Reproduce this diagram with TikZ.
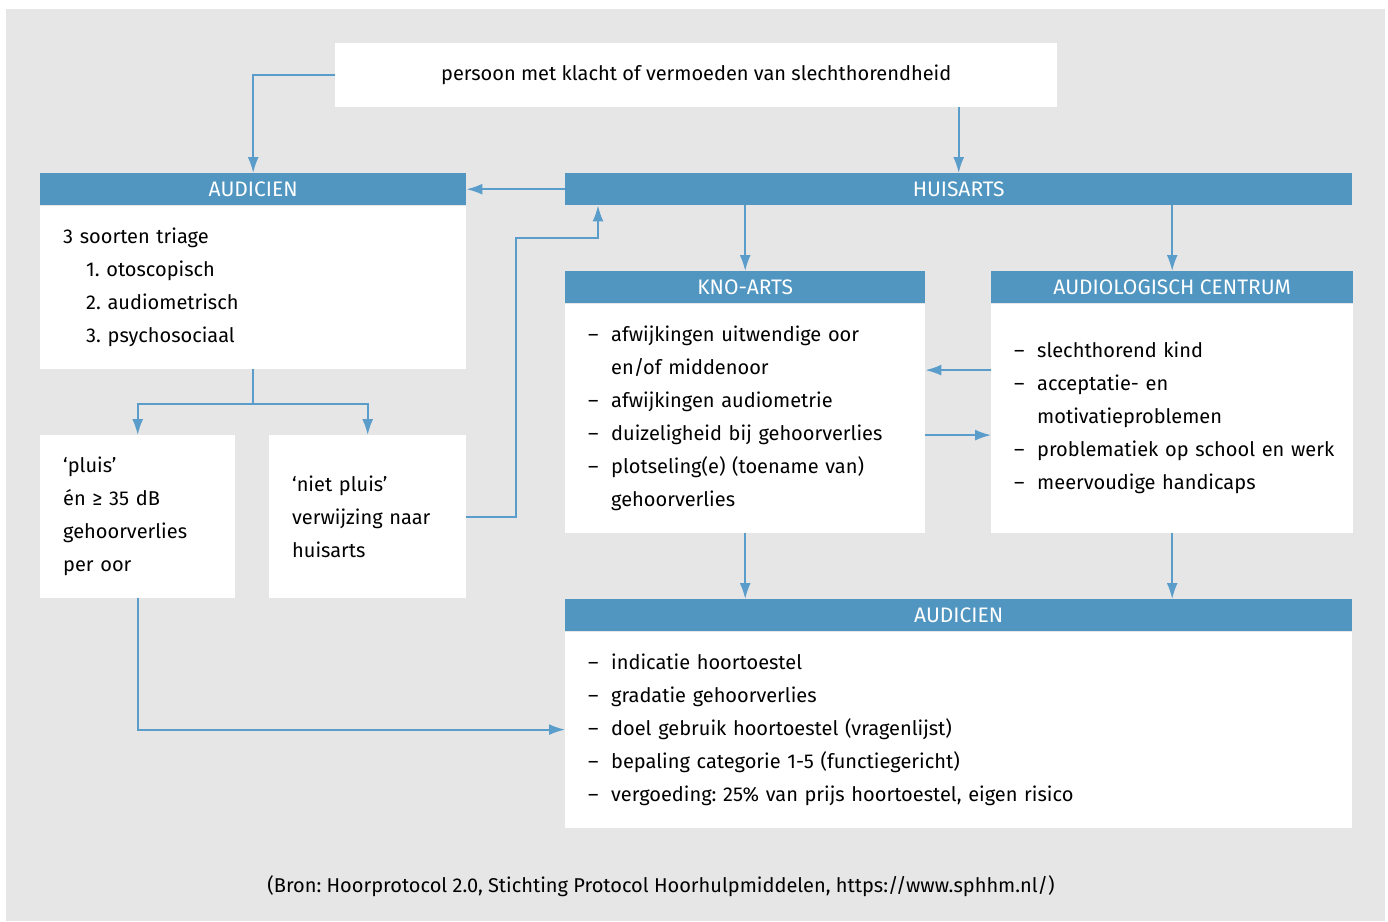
\documentclass[tikz,border=0pt]{standalone}
\usepackage{fontspec}
\setmainfont{Fira Sans}
\usepackage{xcolor}
\usepackage{tikz}
\usetikzlibrary{positioning}
\usetikzlibrary{arrows.meta}
\definecolor{kopblauw}{HTML}{5096C1}
\definecolor{pijlblauw}{HTML}{5A9DCA}
\definecolor{achtergrond}{HTML}{E6E6E6}
\frenchspacing

\newcommand{\streep}{\makebox[23pt][l]{--}}
\newcommand{\inspring}{\hspace*{23pt}}

\begin{document}
\begin{tikzpicture}[x=1pt,y=-1pt]

\tikzset{>={Latex[length=16pt,width=11pt]}}
\tikzset{kop/.style={fill=kopblauw, text=white, inner sep=0pt, minimum height=32pt, anchor=north west, font=\fontsize{21}{24}\selectfont}}
\tikzset{vak/.style={fill=white, inner xsep=23pt, inner ysep=0pt, align=left, anchor=north west, font=\fontsize{20}{33}\selectfont}}
\tikzset{pijl/.style={->, draw=pijlblauw, line width=1.8pt}}

% Achtergrond
\useasboundingbox (0,0) rectangle (1388,921);
\fill[achtergrond] (6,9) rectangle (1385,921);

% Start
\node[fill=white, inner sep=0pt, minimum width=722pt, minimum height=64pt, anchor=north west, font=\fontsize{20}{24}\selectfont] (persoon) at (335,43) {persoon met klacht of vermoeden van slechthorendheid};

% Koppen
\node[kop, minimum width=426pt] (audkop) at (40,173) {AUDICIEN};
\node[kop, minimum width=787pt] (huisarts) at (565,173) {HUISARTS};
\node[kop, minimum width=360pt] (kno) at (565,271) {KNO-ARTS};
\node[kop, minimum width=362pt] (ac) at (991,271) {AUDIOLOGISCH CENTRUM};
\node[kop, minimum width=787pt] (audkop2) at (565,599) {AUDICIEN};

% Inhoud
\node[vak, text width=380pt, minimum height=163pt] (audbody) at (audkop.south west) {3 soorten triage\\
\inspring 1. otoscopisch\\
\inspring 2. audiometrisch\\
\inspring 3. psychosociaal};
\node[vak, text width=149pt, minimum height=163pt] (pluis) at (40,435) {‘pluis’\\
én ≥ 35 dB\\
gehoorverlies\\
per oor};
\node[vak, text width=151pt, minimum height=163pt] (nietpluis) at (269,435) {‘niet pluis’\\
verwijzing naar\\
huisarts};
\node[vak, text width=314pt, minimum height=229pt] (knobody) at (kno.south west) {\streep afwijkingen uitwendige oor\\
\inspring en/of middenoor\\
\streep afwijkingen audiometrie\\
\streep duizeligheid bij gehoorverlies\\
\streep plotseling(e) (toename van)\\
\inspring gehoorverlies};
\node[vak, text width=316pt, minimum height=229pt] (acbody) at (ac.south west) {\streep slechthorend kind\\
\streep acceptatie- en\\
\inspring motivatieproblemen\\
\mbox{\streep problematiek op school en werk}\\
\streep meervoudige handicaps};
\node[vak, text width=741pt, minimum height=196pt] (audbody2) at (audkop2.south west) {\streep indicatie hoortoestel\\
\streep gradatie gehoorverlies\\
\streep doel gebruik hoortoestel (vragenlijst)\\
\streep bepaling categorie 1-5 (functiegericht)\\
\streep vergoeding: 25\% van prijs hoortoestel, eigen risico};

% Bron
\node[font=\fontsize{20}{24}\selectfont] (bron) at (661,886) {(Bron: Hoorprotocol 2.0, Stichting Protocol Hoorhulpmiddelen, https://www.sphhm.nl/)};

% Hulppunten
\coordinate[below=35pt of audbody.south] (splits);
\coordinate (knik) at (516,238);

% Pijlen
\draw[pijl] (persoon.west) -| (audkop.north);
\draw[pijl] (huisarts.north |- persoon.south) -- (huisarts.north);
\draw[pijl] (huisarts.west) -- (audkop.east);
\draw[pijl] (kno.north |- huisarts.south) -- (kno.north);
\draw[pijl] (ac.north |- huisarts.south) -- (ac.north);
\draw[pijl] (audbody.south) -- (splits) -| (pluis.north);
\draw[pijl] (splits) -| (nietpluis.north);
\draw[pijl] (nietpluis.east) -| (knik) -| ([xshift=33pt]huisarts.south west);
\draw[pijl] ([yshift=48pt]acbody.west) -- ([yshift=48pt]knobody.east);
\draw[pijl] ([yshift=-17pt]knobody.east) -- ([yshift=-17pt]acbody.west);
\draw[pijl] (knobody.south) -- (knobody.south |- audkop2.north);
\draw[pijl] (acbody.south) -- (acbody.south |- audkop2.north);
\draw[pijl] (pluis.south) |- (audbody2.west);
\end{tikzpicture}
\end{document}
